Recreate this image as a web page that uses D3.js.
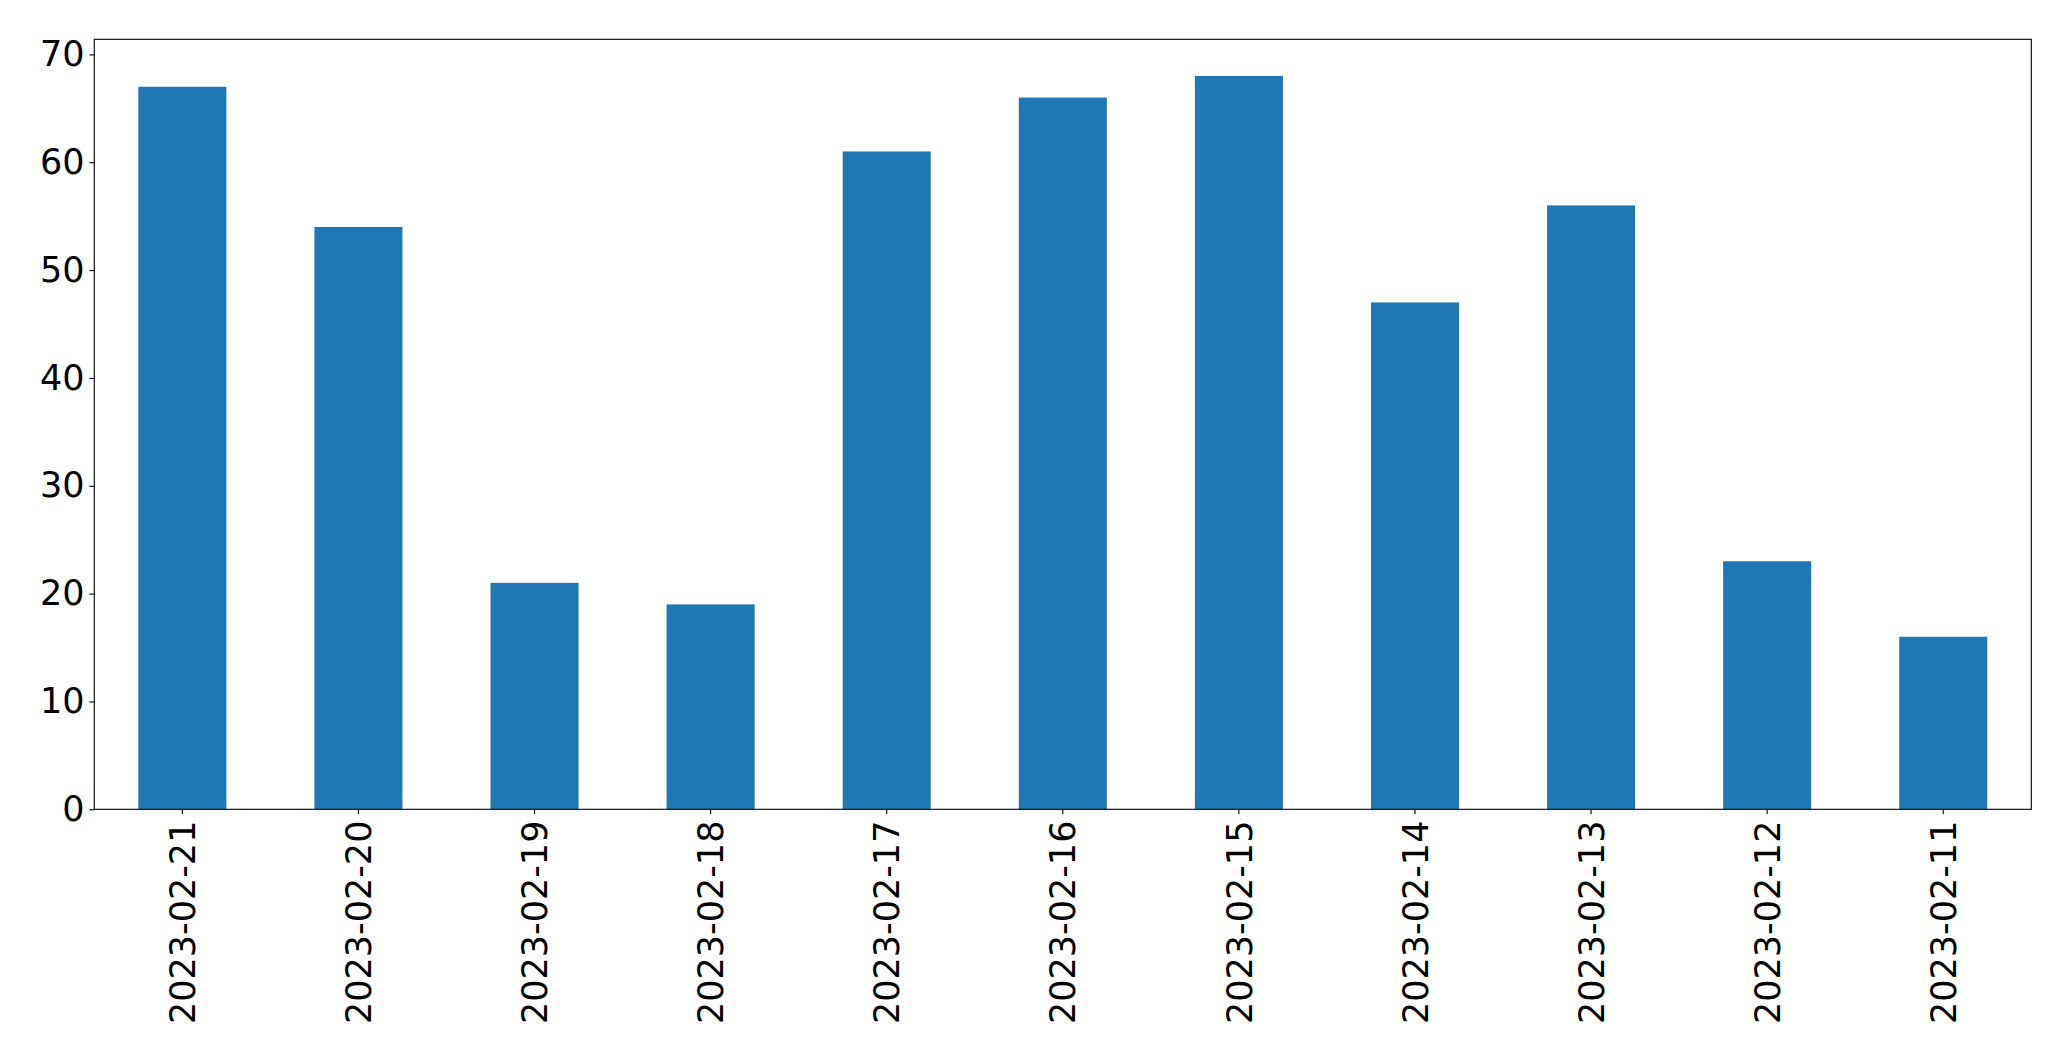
<!DOCTYPE html>
<html>
<head>
<meta charset="utf-8">
<script src="https://cdn.jsdelivr.net/npm/d3@7"></script>
<style>
  html, body { margin: 0; padding: 0; background: #fff; }
  svg { display: block; }
  text { font-family: "DejaVu Sans", sans-serif; }
</style>
</head>
<body>
<script>
const categories = ["2023-02-21","2023-02-20","2023-02-19","2023-02-18","2023-02-17","2023-02-16","2023-02-15","2023-02-14","2023-02-13","2023-02-12","2023-02-11"];
const values = [67, 54, 21, 19, 61, 66, 68, 47, 56, 23, 16];
const yTicks = [0, 10, 20, 30, 40, 50, 60, 70];

const W = 2071, H = 1061;
const m = { left: 94.3, top: 39.3, right: 2071 - 2031.3, bottom: 1061 - 809.3 };
const iw = W - m.left - m.right, ih = H - m.top - m.bottom;
const fontSize = 35;

const svg = d3.select("body").append("svg").attr("width", W).attr("height", H);
const g = svg.append("g").attr("transform", `translate(${m.left},${m.top})`);

const x = d3.scaleBand().domain(categories).range([0, iw]).paddingInner(0.5).paddingOuter(0.25);
const y = d3.scaleLinear().domain([0, d3.max(values) * 1.05]).range([ih, 0]);

g.selectAll("rect.bar").data(categories).enter().append("rect")
  .attr("class", "bar")
  .attr("x", d => x(d))
  .attr("width", x.bandwidth())
  .attr("y", (d, i) => y(values[i]))
  .attr("height", (d, i) => ih - y(values[i]))
  .attr("fill", "#1f77b4");

const tickLen = 4.9, pad = 4.9;

const yAxis = g.append("g").call(d3.axisLeft(y).tickValues(yTicks).tickSize(tickLen).tickPadding(pad).tickFormat(d3.format("d")));
yAxis.select(".domain").remove();
yAxis.selectAll("line").attr("stroke", "#000").attr("stroke-width", 1.1);
yAxis.selectAll("text").attr("font-size", fontSize).attr("fill", "#000").attr("font-family", "DejaVu Sans");

const xAxis = g.append("g").attr("transform", `translate(0,${ih})`)
  .call(d3.axisBottom(x).tickSize(tickLen).tickPadding(pad));
xAxis.select(".domain").remove();
xAxis.selectAll("line").attr("stroke", "#000").attr("stroke-width", 1.1);
xAxis.selectAll("text")
  .attr("font-size", fontSize).attr("fill", "#000").attr("font-family", "DejaVu Sans")
  .attr("transform", "rotate(-90)")
  .attr("text-anchor", "end")
  .attr("x", -(tickLen + pad + 1.5))
  .attr("y", 0)
  .attr("dy", "0.36em");

g.append("rect").attr("x", 0).attr("y", 0).attr("width", iw).attr("height", ih)
  .attr("fill", "none").attr("stroke", "#000").attr("stroke-width", 1.1);
</script>
</body>
</html>
